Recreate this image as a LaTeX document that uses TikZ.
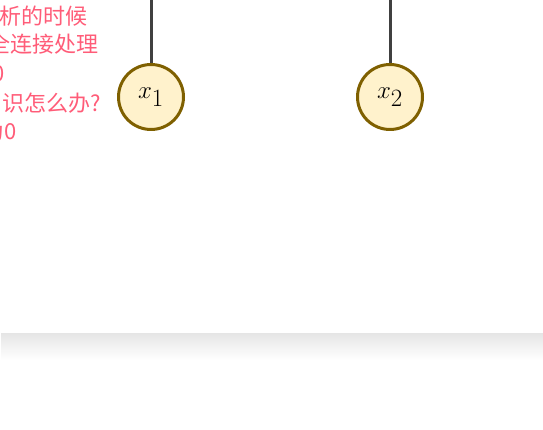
\documentclass[tikz,border=0pt]{standalone}
\usepackage{fontspec}
\newfontfamily\cjk{Noto Sans CJK SC}
\definecolor{noteRed}{RGB}{255,92,120}
\definecolor{nodeFill}{RGB}{255,242,204}
\definecolor{nodeLine}{RGB}{127,96,0}
\definecolor{wireGray}{RGB}{64,64,64}
\tikzset{
  neuron/.style={circle, draw=nodeLine, fill=nodeFill, line width=3pt, minimum size=65pt, inner sep=0pt, font=\fontsize{35}{38}\selectfont},
  wire/.style={draw=wireGray, line width=3pt},
  note/.style={anchor=base east, inner sep=0pt, text=noteRed, font=\cjk\fontsize{22}{25}\selectfont}
}
\begin{document}
\begin{tikzpicture}[x=1pt, y=-1pt, line join=round]
  \useasboundingbox (0,0) rectangle (543,430);
  % 左边的批注文字
  \node[note] (n1) at (88,25) {分析的时候};
  \node[note] (n2) at (99,53) {全连接处理};
  \node[note] (n3) at (5,82) {为0};
  \node[note] (n4) at (101,112) {知识怎么办?};
  \node[note] (n5) at (17,140) {为0};
  % 两个输入节点
  \node[neuron] (x1) at (151,97) {$x_1$};
  \node[neuron] (x2) at (390,97) {$x_2$};
  % 上方的连线
  \coordinate (t1) at (151,0);
  \coordinate (t2) at (390,0);
  \draw[wire] (t1) -- (x1);
  \draw[wire] (t2) -- (x2);
  % 底部的阴影
  \shade[top color=black!10, bottom color=white] (1,333) rectangle (543,360);
\end{tikzpicture}
\end{document}
